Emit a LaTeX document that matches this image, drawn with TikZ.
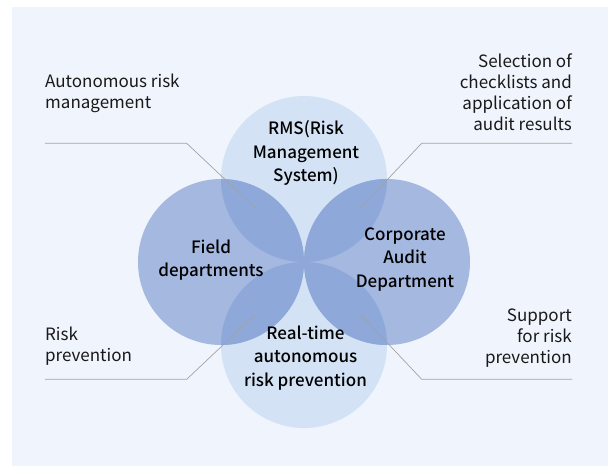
\documentclass[tikz,border=0pt]{standalone}
\usepackage{fontspec}
\setmainfont{Noto Sans CJK KR}
\newfontfamily\labfont[UprightFont={* Medium}]{Noto Sans CJK KR}
\definecolor{panelbg}{HTML}{F0F5FD}
\definecolor{lightc}{HTML}{D3E3F5}
\definecolor{midc}{HTML}{A4B8E0}
\definecolor{overc}{HTML}{8DA8D9}
\definecolor{leadc}{HTML}{A3A3A3}
\tikzset{
  circlabel/.style={inner sep=0pt, align=center, font=\fontsize{17}{23.7}\labfont, text=black},
  sidelabel/.style={inner sep=0pt, font=\fontsize{17}{21}\selectfont, text=black!90},
  leader/.style={draw=leadc, line width=0.7pt},
  leaddot/.style={fill=leadc, draw=none}
}
\begin{document}
\begin{tikzpicture}[x=1pt,y=-1pt]
\useasboundingbox (0,0) rectangle (608,468);
\fill[panelbg] (12,7) rectangle (608,466);
% circles
\def\R{83}
\fill[lightc] (304,179) circle[radius=\R];
\fill[lightc] (304,345) circle[radius=\R];
\fill[midc] (221,262) circle[radius=\R];
\fill[midc] (387,262) circle[radius=\R];
\begin{scope}
  \clip (221,262) circle[radius=\R];
  \fill[overc] (304,179) circle[radius=\R];
  \fill[overc] (304,345) circle[radius=\R];
\end{scope}
\begin{scope}
  \clip (387,262) circle[radius=\R];
  \fill[overc] (304,179) circle[radius=\R];
  \fill[overc] (304,345) circle[radius=\R];
\end{scope}
% circle labels
\node[circlabel] (rms) at (306,153) {RMS(Risk\\Management\\System)};
\node[circlabel] (field) at (211,260) {Field\\departments};
\node[circlabel] (corp) at (405,259.5) {Corporate\\Audit\\Department};
\node[circlabel] (rt) at (305.5,358) {Real-time\\autonomous\\risk prevention};
% side labels
\node[sidelabel, anchor=west, align=left] (tl) at (45,93) {Autonomous risk\\management};
\node[sidelabel, anchor=east, align=right] (tr) at (572,92) {Selection of\\checklists and\\application of\\audit results};
\node[sidelabel, anchor=west, align=left] (bl) at (45,346) {Risk\\prevention};
\node[sidelabel, anchor=east, align=right] (br) at (572,338) {Support\\for risk\\prevention};
% leader lines
\coordinate (tlS) at (45,143.3);
\coordinate (tlB) at (186.7,143.3);
\coordinate (tlE) at (254,206.7);
\coordinate (trS) at (572,143.3);
\coordinate (trB) at (421.7,143.3);
\coordinate (trE) at (361.7,206.7);
\coordinate (blS) at (45,379.3);
\coordinate (blB) at (186.7,379.3);
\coordinate (blE) at (254,315.7);
\coordinate (brS) at (572,379.3);
\coordinate (brB) at (421.7,379.3);
\coordinate (brE) at (361.7,315.7);
\draw[leader] (tlS) -- (tlB) -- (tlE);
\draw[leader] (trS) -- (trB) -- (trE);
\draw[leader] (blS) -- (blB) -- (blE);
\draw[leader] (brS) -- (brB) -- (brE);
\foreach \p in {tlE,trE,blE,brE} \fill[leaddot] (\p) circle[radius=1.3];
\end{tikzpicture}
\end{document}
